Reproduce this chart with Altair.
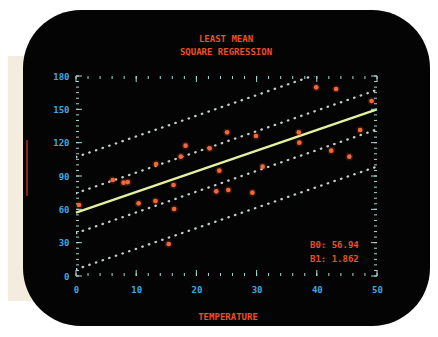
import altair as alt
import pandas as pd

# ---- data ----
pt_x = [0.5, 6.1, 7.9, 8.6, 10.4, 13.3, 13.2, 15.4, 16.3, 16.2, 17.4, 18.2, 22.2, 23.3,
        23.8, 25.3, 25.1, 29.3, 29.9, 31.0, 37.0, 37.1, 39.9, 43.2, 42.4, 45.4, 47.2, 49.1]
pt_y = [63.9, 86.4, 84.0, 84.5, 65.4, 100.8, 67.5, 28.8, 60.3, 81.9, 107.4, 117.3, 114.9, 76.2,
        94.8, 77.4, 129.3, 75.0, 126.0, 98.4, 129.3, 120.0, 169.8, 168.3, 112.8, 107.4, 131.4, 157.5]

fit_x = [0, 50]
fit_y = [57.0, 150.0]

band_names = ["outer upper", "inner upper", "inner lower", "outer lower"]
band_start = [107.0, 74.5, 38.5, 6.0]
band_end = [200.0, 167.5, 132.0, 98.5]

x_labels = [0, 10, 20, 30, 40, 50]
y_labels = [0, 30, 60, 90, 120, 150, 180]
x_minor = list(range(0, 51, 2))
y_minor = list(range(0, 181, 5))

title_lines = ["LEAST MEAN", "SQUARE REGRESSION"]
x_title = "TEMPERATURE"
coef_lines = ["B0: 56.94", "B1: 1.862"]

# ---- tables ----
pts = pd.DataFrame({"x": pt_x, "y": pt_y})
fit = pd.DataFrame({"x": fit_x, "y": fit_y})
bands = pd.DataFrame(
    [{"band": n, "x": fit_x[0], "y": s} for n, s in zip(band_names, band_start)]
    + [{"band": n, "x": fit_x[1], "y": e} for n, e in zip(band_names, band_end)]
)
xmin = pd.DataFrame({"x": x_minor})
ymin = pd.DataFrame({"y": y_minor})
xmaj = pd.DataFrame({"x": x_labels})
ymaj = pd.DataFrame({"y": y_labels})
one = pd.DataFrame({"k": [0]})

W, H = 301, 200
FONT = "DejaVu Sans Mono"
RED = "#ec4f2a"
TICK = "#a6d9d1"

xs = alt.Scale(domain=[0, 50], nice=False, zero=False)
ys = alt.Scale(domain=[0, 180], nice=False, zero=False)
xaxis = alt.Axis(values=x_labels, labelPadding=9, labelFlush=False, zindex=2)
yaxis = alt.Axis(values=y_labels, labelPadding=7, labelFlush=False, zindex=2)


def X(f="x"):
    return alt.X(f + ":Q", scale=xs, axis=xaxis)


def Y(f="y"):
    return alt.Y(f + ":Q", scale=ys, axis=yaxis)


beige = alt.Chart(one).mark_rect(color="#f4eddd").encode(
    x=alt.value(-68), x2=alt.value(-45), y=alt.value(-20), y2=alt.value(225))
screen = alt.Chart(one).mark_rect(color="#040404", cornerRadius=58).encode(
    x=alt.value(-53), x2=alt.value(354), y=alt.value(-66), y2=alt.value(250))
streak = alt.Chart(one).mark_rule(color="#a8281c", strokeWidth=2, opacity=0.8).encode(
    x=alt.value(-49), y=alt.value(64), y2=alt.value(120))

band_layer = alt.Chart(bands).mark_line(
    color="#c3cbcb", strokeWidth=2.3, strokeDash=[0.5, 6.5], strokeCap="round", clip=True
).encode(x=X(), y=Y(), detail="band:N")

fit_layer = alt.Chart(fit).mark_line(color="#e4efa0", strokeWidth=2.5).encode(x=X(), y=Y())


def xticks(df, y0, y1):
    return alt.Chart(df).mark_rule(color=TICK, strokeWidth=1).encode(
        x=X(), y=alt.value(y0), y2=alt.value(y1))


def yticks(df, x0, x1):
    return alt.Chart(df).mark_rule(color=TICK, strokeWidth=1).encode(
        y=Y(), x=alt.value(x0), x2=alt.value(x1))


ticks = [
    xticks(xmin, H, H - 3), xticks(xmin, 0, 3),
    xticks(xmaj, H, H - 6), xticks(xmaj, 0, 6),
    yticks(ymin, 0, 3), yticks(ymin, W, W - 3),
    yticks(ymaj, 0, 6), yticks(ymaj, W, W - 6),
]

glow = alt.Chart(pts).mark_circle(color="#ff5a2a", size=60, opacity=0.18).encode(x=X(), y=Y())
dots = alt.Chart(pts).mark_circle(color="#f2683c", size=22, opacity=1).encode(x=X(), y=Y())


def label(text, x, y, align="center"):
    return alt.Chart(pd.DataFrame({"t": [text]})).mark_text(
        font=FONT, fontSize=9, fontWeight="bold", color=RED, align=align, baseline="middle"
    ).encode(text="t:N", x=alt.value(x), y=alt.value(y))


texts = [
    label(title_lines[0], 150, -37),
    label(title_lines[1], 150, -24),
    label(x_title, 152, 241),
    label(coef_lines[0], 234, 169, "left"),
    label(coef_lines[1], 234, 183, "left"),
]

chart = alt.layer(
    beige, screen, streak, band_layer, fit_layer, *ticks, glow, dots, *texts,
).properties(
    width=W, height=H,
    autosize=alt.AutoSizeParams(type="none"),
    padding={"left": 68, "top": 68, "right": 53, "bottom": 50},
    background="white",
).configure_view(
    stroke=TICK, strokeWidth=1.5
).configure_axis(
    labelColor="#3ea8e6", labelFont=FONT, labelFontSize=9, labelFontWeight="bold",
    domain=False, ticks=False, tickSize=0, grid=False, title=None,
)

chart.save("out.html", embed_options={"renderer": "svg", "actions": False})
